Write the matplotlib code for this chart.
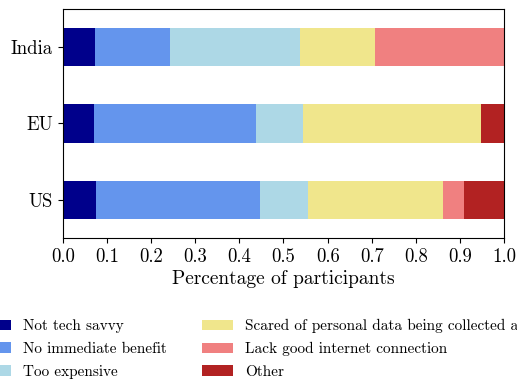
import numpy as np
import matplotlib
matplotlib.use("Agg")
import matplotlib.pyplot as plt

plt.rcParams['font.family'] = 'serif'
plt.rcParams['font.serif'] = ['cmr10']
plt.rcParams['mathtext.fontset'] = 'cm'
plt.rcParams['axes.formatter.use_mathtext'] = True

regions = ['US', 'EU', 'India']
reasons = ['Not tech savvy', 'No immediate benefit', 'Too expensive',
           'Scared of personal data being collected and misused',
           'Lack good internet connection', 'Other']
colors = ['darkblue', 'cornflowerblue', 'lightblue', 'khaki', 'lightcoral', 'firebrick']

# share of participants per reason, rows follow `regions`
us = [0.075, 0.372, 0.109, 0.305, 0.048, 0.091]
eu = [0.071, 0.367, 0.106, 0.403, 0.000, 0.053]
india = [0.073, 0.170, 0.294, 0.170, 0.293, 0.000]

shares = np.array([us, eu, india])

fig = plt.figure(figsize=(5.17, 3.83), dpi=100)
ax = fig.add_axes([0.1213, 0.3786, 0.8541, 0.598])

left = np.zeros(len(regions))
for i, reason in enumerate(reasons):
    ax.barh(regions, shares[:, i], left=left, height=0.5,
            color=colors[i], label=reason)
    left += shares[:, i]

ax.set_xlim(0, 1)
ax.set_ylim(-0.5, 2.5)
ax.set_xticks(np.arange(0, 1.01, 0.1))
ax.set_xticklabels([f"{t:.1f}" for t in np.arange(0, 1.01, 0.1)])
ax.tick_params(axis='both', labelsize=13.5)
ax.set_xlabel('Percentage of participants', fontsize=14, labelpad=3)

# legend is wider than the figure, so it runs off both sides
fig.legend(loc='upper left', bbox_to_anchor=(-0.0495, 0.183), ncol=2,
           frameon=False, fontsize=11, handlelength=2.0,
           columnspacing=2.3, labelspacing=0.58, borderaxespad=0)

fig.savefig('out.png', dpi=100)
